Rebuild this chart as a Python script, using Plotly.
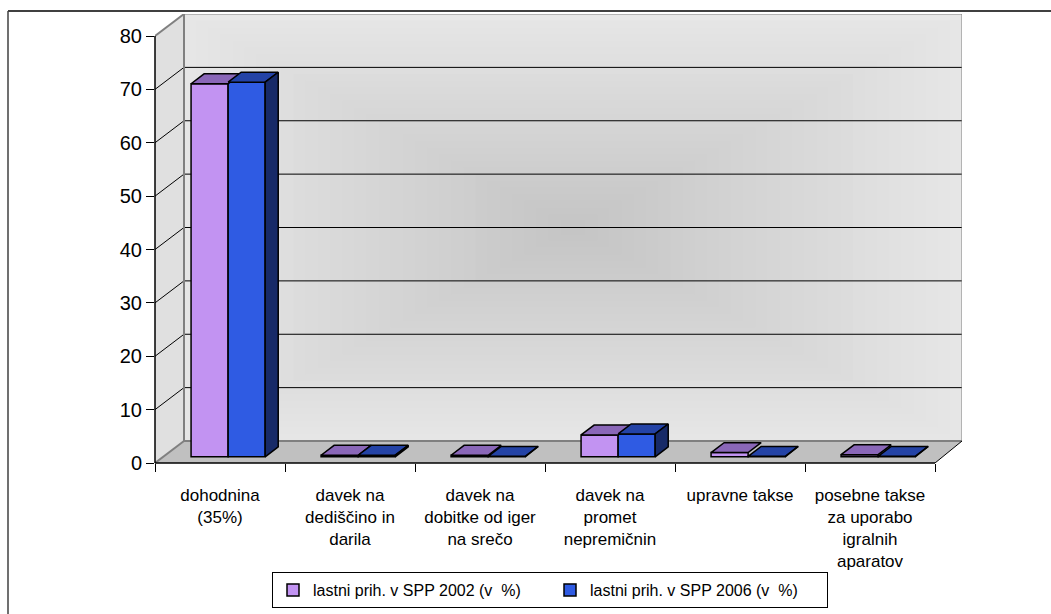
import plotly.graph_objects as go

# ---- data -------------------------------------------------------------
categories = [
    "dohodnina<br>(35%)",
    "davek na<br>dediščino in<br>darila",
    "davek na<br>dobitke od iger<br>na srečo",
    "davek na<br>promet<br>nepremičnin",
    "upravne takse",
    "posebne takse<br>za uporabo<br>igralnih<br>aparatov",
]
series_names = ["lastni prih. v SPP 2002 (v  %)", "lastni prih. v SPP 2006 (v  %)"]
share_2002 = [69.9, 0.3, 0.3, 4.1, 0.8, 0.4]
share_2006 = [70.2, 0.3, 0.1, 4.3, 0.1, 0.1]
y_ticks = [0, 10, 20, 30, 40, 50, 60, 70, 80]

# ---- geometry of the pseudo-3D box (in axis units) -------------------
W, H = 1051, 614
M_L, M_R, M_T, M_B = 155, 89, 14, 151
PLOT_W = W - M_L - M_R
PLOT_H = H - M_T - M_B
PX_PER_CAT = 130.0
PX_PER_UNIT = 5.3375
DEPTH_X = 29 / PX_PER_CAT          # horizontal shift from front to back wall
DEPTH_Y = 22 / PX_PER_UNIT         # vertical shift from front to back wall
X_MAX = PLOT_W / PX_PER_CAT
Y_MAX = PLOT_H / PX_PER_UNIT
N_CAT = len(categories)
Y_TOP = y_ticks[-1]

BAR_FRONT = 0.28                   # fraction of depth where bar fronts sit
BAR_DEPTH = 0.45                   # fraction of depth the bars occupy
BAR_W = 0.285
GROUP_SHIFT = BAR_FRONT * DEPTH_X
BAR_BASE = BAR_FRONT * DEPTH_Y
DX = BAR_DEPTH * DEPTH_X
DY = BAR_DEPTH * DEPTH_Y

FONT = "Liberation Sans, Arial, sans-serif"

front_colors = ["#C293F2", "#2F5BE3"]
top_colors = ["#8A67B8", "#2443A6"]
side_colors = ["#9A74C8", "#172A68"]

fig = go.Figure()

centers = [i + 0.5 + GROUP_SHIFT for i in range(N_CAT)]

# front faces of the columns
for k, (name, vals) in enumerate(zip(series_names, [share_2002, share_2006])):
    fig.add_trace(go.Bar(
        x=centers, y=vals, base=[BAR_BASE] * N_CAT, name=name,
        marker=dict(color=front_colors[k], line=dict(color="black", width=1.5)),
        hoverinfo="skip",
    ))


def face_trace(xs, ys, color):
    return go.Scatter(x=xs, y=ys, mode="lines", fill="toself", fillcolor=color,
                      line=dict(color="black", width=1.5), showlegend=False,
                      hoverinfo="skip")


# top faces (both series) and side faces (right-hand series only)
for k, vals in enumerate([share_2002, share_2006]):
    tx, ty, sx, sy = [], [], [], []
    for i, v in enumerate(vals):
        x0 = centers[i] - BAR_W + k * BAR_W
        x1 = x0 + BAR_W
        yb = BAR_BASE
        yt = BAR_BASE + v
        tx += [x0, x0 + DX, x1 + DX, x1, x0, None]
        ty += [yt, yt + DY, yt + DY, yt, yt, None]
        sx += [x1, x1 + DX, x1 + DX, x1, x1, None]
        sy += [yb, yb + DY, yt + DY, yt, yb, None]
    fig.add_trace(face_trace(tx, ty, top_colors[k]))
    if k == 1:
        fig.add_trace(face_trace(sx, sy, side_colors[k]))

# ---- walls, floor and gridlines --------------------------------------
shapes = []

# back wall: rectangular path gradient, light at the edges, darker centre
N_STEPS = 32
cx = (DEPTH_X + X_MAX) / 2
cy = (DEPTH_Y + Y_MAX) / 2
hw = (X_MAX - DEPTH_X) / 2
hh = (Y_MAX - DEPTH_Y) / 2
edge_c, mid_c = 0xE6, 0xC4
for s in range(N_STEPS):
    f = 1 - s / N_STEPS
    c = round(mid_c + (edge_c - mid_c) * f)
    shapes.append(dict(type="rect", xref="x", yref="y", layer="below",
                       x0=cx - hw * f, x1=cx + hw * f, y0=cy - hh * f, y1=cy + hh * f,
                       fillcolor=f"rgb({c},{c},{c})", line=dict(width=0)))

# left side wall
shapes.append(dict(type="path", xref="x", yref="y", layer="below",
                   path=f"M 0,0 L {DEPTH_X},{DEPTH_Y} L {DEPTH_X},{Y_MAX} L 0,{Y_TOP} Z",
                   fillcolor="#E0E0E0", line=dict(width=0)))
# floor
shapes.append(dict(type="path", xref="x", yref="y", layer="below",
                   path=f"M 0,0 L {DEPTH_X},{DEPTH_Y} L {X_MAX},{DEPTH_Y} L {N_CAT},0 Z",
                   fillcolor="#C0C0C0", line=dict(width=0)))

# gridlines on back wall and side wall
for v in y_ticks[1:-1]:
    shapes.append(dict(type="line", xref="x", yref="y", layer="below",
                       x0=DEPTH_X, x1=X_MAX, y0=DEPTH_Y + v, y1=DEPTH_Y + v,
                       line=dict(color="black", width=1)))
    shapes.append(dict(type="line", xref="x", yref="y", layer="below",
                       x0=0, x1=DEPTH_X, y0=v, y1=DEPTH_Y + v,
                       line=dict(color="black", width=1)))

# wall edges
edge = dict(color="#808080", width=2)
shapes += [
    dict(type="line", xref="x", yref="y", layer="below",
         x0=DEPTH_X, x1=DEPTH_X, y0=DEPTH_Y, y1=Y_MAX, line=edge),
    dict(type="line", xref="x", yref="y", layer="below",
         x0=0, x1=DEPTH_X, y0=Y_TOP, y1=Y_MAX, line=edge),
    dict(type="line", xref="x", yref="y", layer="below",
         x0=0, x1=DEPTH_X, y0=0, y1=DEPTH_Y, line=edge),
    dict(type="line", xref="x", yref="y", layer="below",
         x0=DEPTH_X, x1=X_MAX, y0=DEPTH_Y, y1=DEPTH_Y, line=edge),
    dict(type="line", xref="x", yref="y", layer="below",
         x0=DEPTH_X, x1=X_MAX, y0=Y_MAX, y1=Y_MAX, line=dict(color="#808080", width=1)),
    dict(type="line", xref="x", yref="y", layer="below",
         x0=X_MAX, x1=X_MAX, y0=DEPTH_Y, y1=Y_MAX, line=dict(color="#808080", width=1)),
    dict(type="line", xref="x", yref="y", layer="below",
         x0=N_CAT, x1=X_MAX, y0=0, y1=DEPTH_Y, line=dict(color="black", width=1)),
]

# value axis and category axis lines
shapes.append(dict(type="line", xref="paper", yref="y", x0=0, x1=0, y0=0, y1=Y_TOP,
                   line=dict(color="black", width=1.5)))
shapes.append(dict(type="line", xref="x", yref="paper", x0=0, x1=N_CAT, y0=0, y1=0,
                   line=dict(color="black", width=1.5)))

# outer chart frame
fx0 = (8 - M_L) / PLOT_W
fy1 = (H - M_B - 11) / PLOT_H
shapes.append(dict(type="line", xref="paper", yref="paper", x0=fx0, x1=2.0, y0=fy1, y1=fy1,
                   line=dict(color="black", width=1.5)))
shapes.append(dict(type="line", xref="paper", yref="paper", x0=fx0, x1=fx0, y0=fy1, y1=-2.0,
                   line=dict(color="#404040", width=1.5)))

fig.update_layout(
    width=W, height=H,
    margin=dict(l=M_L, r=M_R, t=M_T, b=M_B, pad=0, autoexpand=False),
    paper_bgcolor="white", plot_bgcolor="white",
    barmode="group", bargap=1 - 2 * BAR_W, bargroupgap=0,
    shapes=shapes,
    font=dict(family=FONT, color="black"),
    showlegend=True,
    legend=dict(orientation="h", xref="container", yref="container",
                x=550 / W, xanchor="center", y=1 - 572 / H, yanchor="top",
                bordercolor="black", borderwidth=1, bgcolor="white",
                font=dict(size=16, family=FONT), itemwidth=30,
                entrywidth=232, entrywidthmode="pixels",
                traceorder="normal"),
    xaxis=dict(range=[0, X_MAX], showgrid=False, zeroline=False, showline=False,
               automargin=False,
               tickmode="array", tickvals=[i + 0.5 for i in range(N_CAT)],
               ticktext=categories, ticks="", ticklabelstandoff=20,
               tickfont=dict(size=17, family=FONT), tickangle=0,
               minor=dict(tickmode="array", tickvals=list(range(N_CAT + 1)),
                          ticks="outside", ticklen=8, tickcolor="black", tickwidth=1,
                          showgrid=False),
               fixedrange=True),
    yaxis=dict(range=[0, Y_MAX], showgrid=False, zeroline=False, showline=False,
               automargin=False,
               tickmode="array", tickvals=y_ticks, ticks="outside", ticklen=8,
               tickcolor="black", tickwidth=1, tickfont=dict(size=20, family=FONT),
               fixedrange=True),
)

fig.write_html("out.html")
